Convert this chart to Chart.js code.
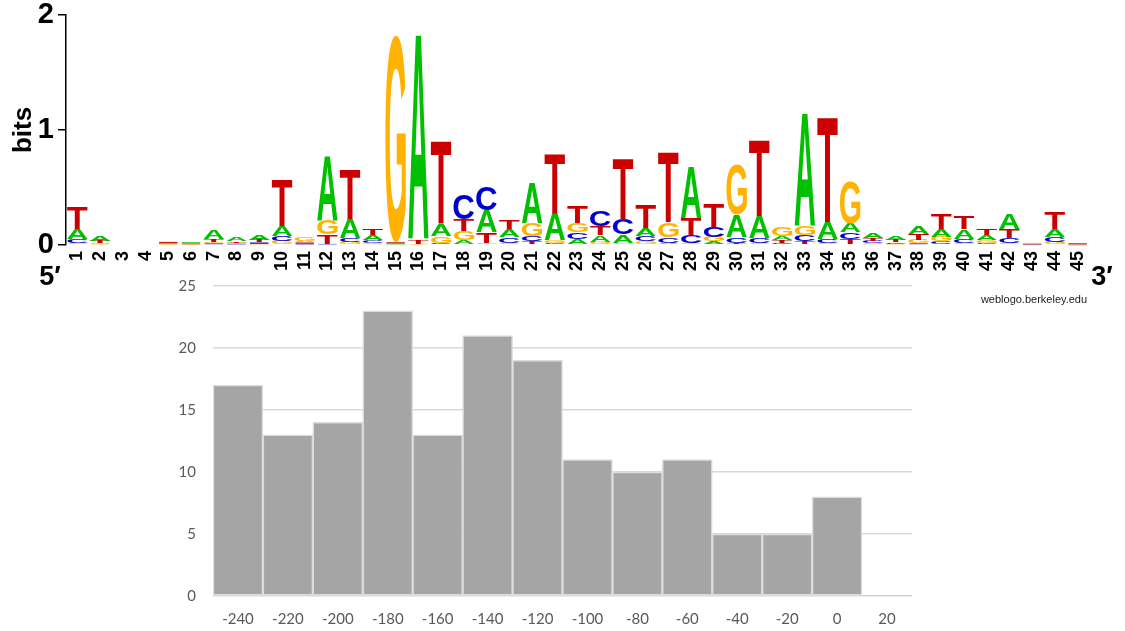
<!DOCTYPE html>
<html><head><meta charset="utf-8">
<script src="https://cdn.jsdelivr.net/npm/chart.js@4"></script>
<style>
html,body{margin:0;padding:0;background:#fff;}
#wrap{position:relative;width:1125px;height:631px;overflow:hidden;background:#fff;}
#logo{position:absolute;left:0;top:0;}
#hist{position:absolute;left:0;top:270px;}
</style></head><body>
<div id="wrap">
<canvas id="hist" width="1125" height="361"></canvas>
<canvas id="logo" width="1125" height="310"></canvas>
</div>
<script>
// ---------- Sequence logo data (bits per letter per position) ----------
const positions = ["1","2","3","4","5","6","7","8","9","10","11","12","13","14","15","16","17","18","19","20","21","22","23","24","25","26","27","28","29","30","31","32","33","34","35","36","37","38","39","40","41","42","43","44","45"];
const heightsA = [.085,.045,0,0,.006,.012,.08,.03,.045,.09,.015,.56,.17,.045,.01,1.78,.1,.04,.19,.065,.35,.24,.05,.06,.07,.07,.02,.45,.03,.19,.19,.035,.97,.15,.075,.04,.035,.07,.07,.08,.04,.13,.003,.07,.002];
const heightsC = [.035,.005,0,0,.004,.004,.015,.01,.012,.04,.01,.01,.035,.025,.005,.005,.02,.22,.21,.05,.05,.02,.06,.14,.14,.05,.05,.07,.09,.05,.04,.02,.06,.03,.06,.02,.015,.015,.03,.035,.02,.04,.003,.045,.002];
const heightsG = [.02,.01,0,0,.005,.004,.015,.01,.01,.035,.03,.12,.025,.015,1.8,.005,.06,.08,.02,.02,.11,.02,.08,.03,.02,.03,.13,.02,.04,.43,.02,.08,.08,.02,.37,.015,.01,.03,.04,.02,.025,.02,.01,.025,.002];
const heightsT = [.19,.02,0,0,.012,.004,.02,.015,.025,.4,.012,.08,.42,.05,.01,.035,.72,.1,.09,.075,.03,.52,.14,.075,.53,.2,.6,.14,.2,.02,.66,.025,.03,.91,.05,.025,.02,.05,.13,.11,.06,.08,.003,.15,.01];
const bitTicks = [0, 1, 2];

// ---------- Histogram data ----------
const binLabels = ["-240","-220","-200","-180","-160","-140","-120","-100","-80","-60","-40","-20","0","20"];
const binCounts = [17,13,14,23,13,21,19,11,10,11,5,5,8,0];

// ---------- Build stacked rank layers (smallest at bottom) ----------
const letterList = ['A','C','G','T'];
const letterHeights = {A: heightsA, C: heightsC, G: heightsG, T: heightsT};
const letterColors = {A:'#00c000', C:'#0000cc', G:'#ffb300', T:'#cc0000'};
const rankLetters = [[],[],[],[]], rankValues = [[],[],[],[]];
positions.forEach((p, i) => {
  const col = letterList.map(l => ({l, v: letterHeights[l][i]})).sort((a, b) => a.v - b.v);
  col.forEach((c, r) => { rankLetters[r][i] = c.l; rankValues[r][i] = c.v; });
});

const LFONT = 'bold 200px "Liberation Sans", Arial, sans-serif';
const glyphCache = {};
function glyph(ctx, L) {
  if (glyphCache[L]) return glyphCache[L];
  ctx.save(); ctx.font = LFONT;
  const m = ctx.measureText(L);
  ctx.restore();
  const g = {left: m.actualBoundingBoxLeft, w: m.actualBoundingBoxLeft + m.actualBoundingBoxRight,
             asc: m.actualBoundingBoxAscent, h: m.actualBoundingBoxAscent + m.actualBoundingBoxDescent};
  glyphCache[L] = g; return g;
}

const letterPlugin = {
  id: 'letters',
  afterDatasetsDraw(chart) {
    const ctx = chart.ctx;
    chart.data.datasets.forEach((ds, r) => {
      const meta = chart.getDatasetMeta(r);
      meta.data.forEach((bar, i) => {
        const p = bar.getProps(['x','y','base','width'], true);
        const h = p.base - p.y;
        if (!(h > 0.15)) return;
        const L = ds.letters[i];
        ctx.save();
        ctx.fillStyle = letterColors[L];
        if (h < 1.5) {
          ctx.globalAlpha = Math.min(1, 0.35 + h * 0.4);
          ctx.fillRect(p.x - p.width / 2 + 1, p.y, p.width - 2, Math.max(h, 0.8));
        } else {
          const g = glyph(ctx, L);
          ctx.font = LFONT;
          ctx.textAlign = 'left'; ctx.textBaseline = 'alphabetic';
          ctx.translate(p.x - p.width / 2, p.y);
          ctx.scale(p.width / g.w, h / g.h);
          ctx.fillText(L, g.left, g.asc);
        }
        ctx.restore();
      });
    });
  }
};

const logoText = {
  id: 'logoText',
  afterDraw(chart) {
    const ctx = chart.ctx;
    ctx.save();
    ctx.fillStyle = '#000';
    ctx.font = 'bold 27px "Liberation Sans", Arial, sans-serif';
    ctx.textAlign = 'center'; ctx.textBaseline = 'middle';
    ctx.fillText('5\u2032', 50, 278);
    ctx.fillText('3\u2032', 1102, 278);
    ctx.font = '11px "Liberation Sans", Arial, sans-serif';
    ctx.fillStyle = '#222';
    ctx.fillText('weblogo.berkeley.edu', 1034, 300);
    ctx.restore();
  }
};

function noVPad(s) { s.paddingTop = 0; s.paddingBottom = 0; }
function noHPad(s) { s.paddingLeft = 0; s.paddingRight = 0; }

new Chart(document.getElementById('logo'), {
  type: 'bar',
  data: {
    labels: positions,
    datasets: rankValues.map((v, r) => ({
      data: v, letters: rankLetters[r],
      backgroundColor: 'rgba(0,0,0,0)', borderWidth: 0,
      barPercentage: 0.9, categoryPercentage: 1
    }))
  },
  options: {
    responsive: false, animation: false, devicePixelRatio: 1,
    layout: {padding: {top: 15, right: 36, left: 0, bottom: 0}},
    plugins: {legend: {display: false}, tooltip: {enabled: false}},
    scales: {
      x: {
        stacked: true,
        grid: {display: false, drawTicks: false},
        border: {display: false},
        ticks: {autoSkip: false, minRotation: 90, maxRotation: 90, padding: 6, color: '#000',
                font: {family: '"Liberation Sans", Arial, sans-serif', weight: 'bold', size: 18, lineHeight: 1}},
        afterFit(s) { s.height = 65; noHPad(s); }
      },
      y: {
        stacked: true, min: bitTicks[0], max: bitTicks[bitTicks.length - 1],
        afterBuildTicks(s) { s.ticks = bitTicks.map(v => ({value: v})); },
        ticks: {stepSize: 1, color: '#000', padding: 4,
                font: {family: '"Liberation Sans", Arial, sans-serif', weight: 'bold', size: 29, lineHeight: 1}},
        grid: {drawOnChartArea: false, drawTicks: true, tickLength: 8, color: '#000', lineWidth: 1.5},
        border: {display: true, color: '#000', width: 1.5},
        title: {display: true, text: 'bits', color: '#000',
                font: {family: '"Liberation Sans", Arial, sans-serif', weight: 'bold', size: 26},
                padding: {top: 8, bottom: 0}},
        afterFit(s) { s.width = 66; noVPad(s); }
      }
    }
  },
  plugins: [letterPlugin, logoText]
});

new Chart(document.getElementById('hist'), {
  type: 'bar',
  data: {
    labels: binLabels,
    datasets: [{
      data: binCounts,
      backgroundColor: '#a5a5a5',
      borderColor: '#dcdcdc',
      borderWidth: c => (c.raw ? 1.5 : 0),
      borderSkipped: false,
      barPercentage: 1, categoryPercentage: 1
    }]
  },
  options: {
    responsive: false, animation: false, devicePixelRatio: 1,
    layout: {padding: {top: 16, right: 213, left: 0, bottom: 0}},
    plugins: {legend: {display: false}, tooltip: {enabled: false}},
    scales: {
      x: {
        grid: {display: false, drawTicks: false},
        border: {display: false},
        ticks: {color: '#595959', font: {family: 'Lato, "Open Sans", sans-serif', size: 15}, padding: 14, maxRotation: 0, autoSkip: false},
        afterFit(s) { s.height = 35; noHPad(s); }
      },
      y: {
        min: 0, max: 25,
        ticks: {stepSize: 5, color: '#595959', font: {family: 'Lato, "Open Sans", sans-serif', size: 15}, padding: 17},
        grid: {color: '#d9d9d9', lineWidth: 1.5, drawTicks: false},
        border: {display: false},
        afterFit(s) { s.width = 213; noVPad(s); }
      }
    }
  }
});
</script>
</body></html>
